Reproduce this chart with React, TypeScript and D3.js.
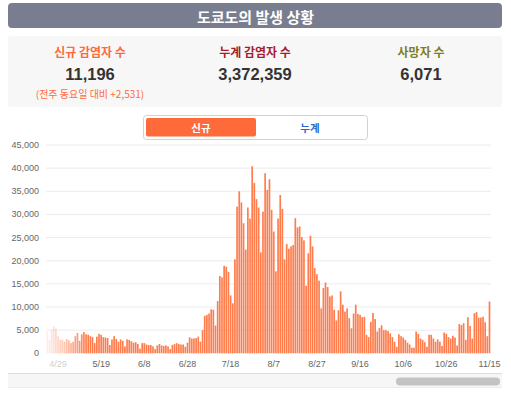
import React from "react";
import * as d3 from "d3";

// ---- data (Tokyo daily new cases, 2022-04-24 .. 2022-11-15) ----
const startDate = new Date(2022, 3, 24);
const endDate = new Date(2022, 10, 16);
const aprCases = [4700, 2900, 5000, 5800, 5300, 3700, 2900];
const mayCases = [2950, 2500, 3100, 2800, 2200, 2500, 3700, 4400, 2700, 4100, 4600, 4100, 4000, 3700, 3500, 2200, 3600, 4200, 4000, 3500, 3400, 3300, 1800, 3000, 3700, 3100, 2500, 3000, 2700, 1500, 3000];
const junCases = [2900, 2600, 2300, 2400, 2000, 1000, 2200, 2200, 1900, 1800, 1800, 1500, 900, 1700, 2000, 1700, 1600, 1700, 1500, 900, 1800, 2000, 2200, 2000, 1900, 1900, 1400, 2300, 3450, 3200];
const julCases = [3200, 3300, 3600, 2500, 5000, 8100, 8300, 8600, 9500, 9400, 6000, 11300, 16700, 16400, 18900, 18700, 17600, 12500, 10800, 20300, 31700, 35000, 32600, 28100, 22400, 31500, 29100, 40400, 36800, 33300, 31500];
const augCases = [21800, 30600, 38900, 35300, 37600, 31000, 26300, 17700, 29100, 34200, 31200, 20300, 23600, 22600, 23100, 23400, 29200, 27200, 27400, 25100, 24400, 14600, 21600, 25400, 23100, 18400, 17100, 15700, 9700, 14100, 15300];
const sepCases = [14300, 12300, 12500, 9400, 7100, 9300, 13400, 10500, 9000, 9700, 7600, 5400, 8600, 10500, 8500, 8300, 7800, 7900, 4000, 3500, 6800, 8700, 7400, 4700, 5500, 6050, 5000, 5000, 4800, 4300];
const octCases = [3500, 2500, 1400, 4100, 3700, 3400, 2900, 2300, 1900, 1200, 1200, 4700, 4200, 3200, 2900, 2400, 1400, 4000, 4000, 3200, 2500, 3000, 2500, 1600, 4500, 4200, 3500, 3200, 3800, 3400, 1700];
const novCases = [6300, 6100, 6500, 2900, 7800, 5900, 3200, 8665, 8900, 7700, 7700, 7900, 6700, 3700, 11196];

const yTicks = [0, 5000, 10000, 15000, 20000, 25000, 30000, 35000, 40000, 45000];
const xTickLabels = ["4/29", "5/19", "6/8", "6/28", "7/18", "8/7", "8/27", "9/16", "10/6", "10/26", "11/15"];

const statLabels = ["신규 감염자 수", "누계 감염자 수", "사망자 수"];
const statValues = [11196, 3372359, 6071];
const statColors = ["#ff6a3d", "#a51d2d", "#7e7d22"];
const weekDiff = 2531;

const W = 511;
const H = 396;
const LATIN = "'Liberation Sans', Arial, Helvetica, sans-serif";
const KR = "'Noto Sans CJK KR', 'Liberation Sans', sans-serif";

export default function App() {
  const dates = d3.timeDay.range(startDate, endDate);
  const values = [...aprCases, ...mayCases, ...junCases, ...julCases, ...augCases, ...sepCases, ...octCases, ...novCases];
  const fmtDate = d3.timeFormat("%-m/%-d");
  const keys = dates.map((d) => fmtDate(d));
  const data = keys.map((k, i) => ({ k, v: values[i] }));

  const step = 2.155;
  const x0 = 46.4;
  const x = d3.scaleBand<string>().domain(keys).range([x0, x0 + step * keys.length]).paddingInner(0.22).paddingOuter(0);
  const y = d3.scaleLinear().domain([0, 45000]).range([353.3, 145]);
  const fmt = d3.format(",");

  const gridX1 = 46;
  const gridX2 = 491;

  return (
    <svg width={W} height={H} style={{ position: "absolute", left: 0, top: 0, background: "#fff" }}>
      <defs>
        <linearGradient id="fadeGrad" gradientUnits="userSpaceOnUse" x1={44} y1={0} x2={86} y2={0}>
          <stop offset="0" stopColor="#fff" stopOpacity={0.08} />
          <stop offset="0.5" stopColor="#fff" stopOpacity={0.45} />
          <stop offset="1" stopColor="#fff" stopOpacity={1} />
        </linearGradient>
        <mask id="fadeMask" maskUnits="userSpaceOnUse" x={0} y={0} width={W} height={H}>
          <rect x={0} y={0} width={W} height={H} fill="url(#fadeGrad)" />
        </mask>
      </defs>

      {/* header */}
      <rect x={8} y={3} width={494} height={25} rx={4} fill="#787d8f" />
      <text x={255.5} y={16} textAnchor="middle" dominantBaseline="central" fill="#fff" fontSize={15} fontWeight={700} fontFamily={KR}>
        도쿄도의 발생 상황
      </text>

      {/* stats panel */}
      <rect x={8} y={36} width={494} height={71} rx={3} fill="#f7f7f7" />
      {statLabels.map((lab, i) => {
        const cx = [90, 255, 421][i];
        return (
          <g key={lab}>
            <text x={cx} y={51.5} textAnchor="middle" dominantBaseline="central" fill={statColors[i]} fontSize={12} fontWeight={700} fontFamily={KR}>
              {lab}
            </text>
            <text x={cx} y={73.5} textAnchor="middle" dominantBaseline="central" fill="#333" fontSize={16.5} fontWeight={700} fontFamily={LATIN}>
              {fmt(statValues[i])}
            </text>
          </g>
        );
      })}
      <text x={90} y={93} textAnchor="middle" dominantBaseline="central" fill="#ff6a3d" fontSize={10} fontFamily={KR}>
        {`(전주 동요일 대비 +${fmt(weekDiff)})`}
      </text>

      {/* toggle */}
      <rect x={143.5} y={115.5} width={224} height={24} rx={3} fill="#fff" stroke="#d2d2d2" />
      <rect x={146} y={118} width={110} height={18.5} rx={2} fill="#ff6a3a" />
      <text x={201} y={127.5} textAnchor="middle" dominantBaseline="central" fill="#fff" fontSize={10.5} fontWeight={700} fontFamily={KR}>
        신규
      </text>
      <text x={310} y={127.5} textAnchor="middle" dominantBaseline="central" fill="#2a6ad0" fontSize={10.5} fontWeight={700} fontFamily={KR}>
        누계
      </text>

      {/* grid + y axis */}
      {yTicks.map((t) => (
        <g key={t}>
          {t > 0 && <line x1={gridX1} x2={gridX2} y1={y(t)} y2={y(t)} stroke="#ececec" strokeWidth={1} />}
          <text x={39} y={y(t)} textAnchor="end" dominantBaseline="central" fill="#666" fontSize={9} fontFamily={LATIN}>
            {fmt(t)}
          </text>
        </g>
      ))}

      {/* bars */}
      <g mask="url(#fadeMask)">
        {data.map((d) => (
          <rect key={d.k} x={x(d.k)} y={y(d.v)} width={x.bandwidth()} height={y(0) - y(d.v)} fill="#ff7d4d" />
        ))}
      </g>

      {/* x axis labels */}
      {xTickLabels.map((l, i) => (
        <text key={l} x={(x(l) ?? 0) + x.bandwidth() / 2} y={364} textAnchor="middle" dominantBaseline="central" fill={i === 0 ? "#cfcfcf" : "#666"} fontSize={9} fontFamily={LATIN}>
          {l}
        </text>
      ))}

      {/* scroll bar */}
      <rect x={8} y={373.5} width={494} height={14} fill="#f6f6f6" />
      <line x1={8} x2={502} y1={373.5} y2={373.5} stroke="#dcdcdc" />
      <line x1={8} x2={502} y1={387.5} y2={387.5} stroke="#ececec" />
      <rect x={396} y={377.5} width={104} height={8} rx={4} fill="#c3c3c3" />
    </svg>
  );
}
